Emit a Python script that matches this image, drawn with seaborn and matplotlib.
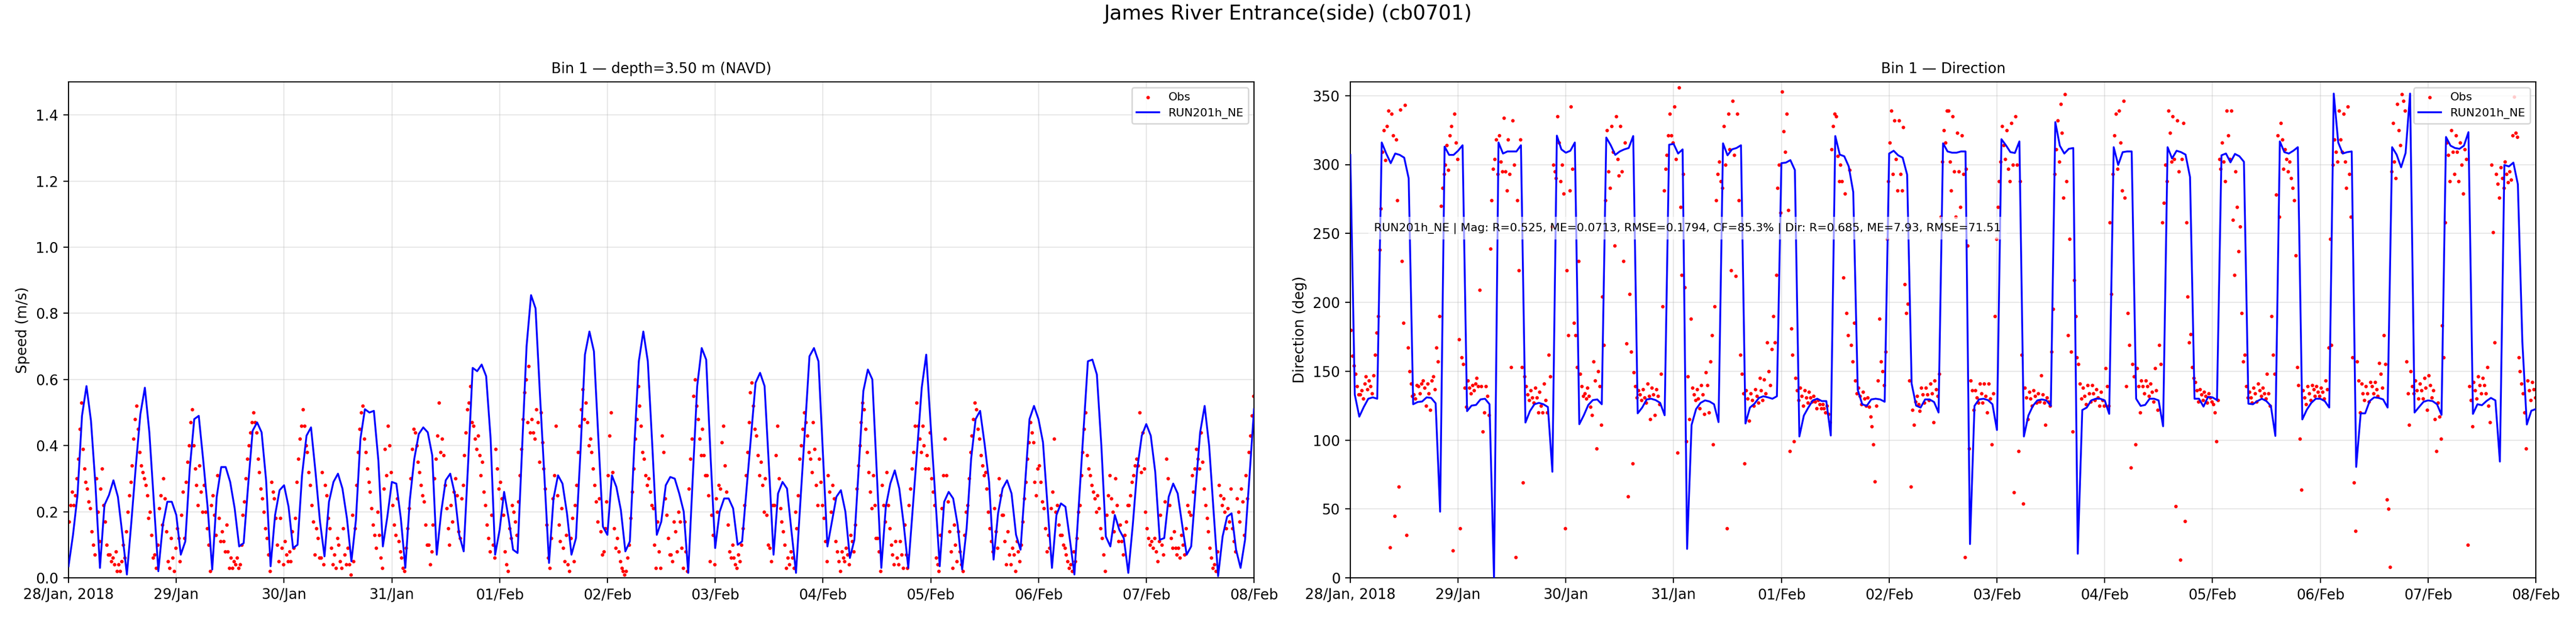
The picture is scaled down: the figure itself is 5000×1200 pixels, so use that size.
import pandas as pd
import seaborn as sns
import matplotlib.pyplot as plt

# ==========================
# DATA
# ==========================
model_start = "2018-01-28 00:00"   # hourly model output
obs_start = "2018-01-28 00:10"     # 20-min ADCP samples

# model speed (m/s), hourly, 28/Jan 00h -> 08/Feb 00h
model_speed = [
    0.035, 0.13, 0.25, 0.49, 0.58, 0.475, 0.28, 0.03, 0.22, 0.25, 0.295, 0.245, 0.13, 0.01, 0.17, 0.34, 0.495, 0.575, 0.44, 0.23, 0.02, 0.16, 0.23, 0.23,
    0.19, 0.07, 0.11, 0.33, 0.48, 0.49, 0.355, 0.21, 0.025, 0.245, 0.335, 0.335, 0.29, 0.21, 0.095, 0.105, 0.28, 0.445, 0.47, 0.44, 0.295, 0.035, 0.19, 0.265,
    0.28, 0.215, 0.09, 0.10, 0.31, 0.43, 0.455, 0.32, 0.17, 0.065, 0.23, 0.29, 0.315, 0.27, 0.18, 0.05, 0.175, 0.42, 0.51, 0.50, 0.505, 0.355, 0.095, 0.185,
    0.29, 0.285, 0.18, 0.03, 0.235, 0.36, 0.435, 0.455, 0.44, 0.37, 0.07, 0.20, 0.295, 0.315, 0.255, 0.13, 0.08, 0.35, 0.635, 0.625, 0.645, 0.61, 0.42, 0.07,
    0.145, 0.26, 0.18, 0.085, 0.075, 0.39, 0.70, 0.855, 0.815, 0.55, 0.30, 0.045, 0.24, 0.31, 0.285, 0.195, 0.07, 0.12, 0.38, 0.675, 0.745, 0.685, 0.42, 0.155,
    0.13, 0.31, 0.275, 0.205, 0.08, 0.11, 0.40, 0.655, 0.745, 0.655, 0.40, 0.13, 0.17, 0.28, 0.305, 0.30, 0.255, 0.20, 0.015, 0.30, 0.58, 0.695, 0.66, 0.36,
    0.09, 0.20, 0.24, 0.24, 0.21, 0.10, 0.11, 0.27, 0.43, 0.59, 0.62, 0.58, 0.33, 0.07, 0.255, 0.29, 0.27, 0.14, 0.015, 0.235, 0.45, 0.67, 0.695, 0.655,
    0.375, 0.095, 0.17, 0.245, 0.265, 0.20, 0.06, 0.115, 0.34, 0.565, 0.63, 0.60, 0.315, 0.03, 0.215, 0.285, 0.325, 0.27, 0.16, 0.03, 0.21, 0.39, 0.575, 0.675,
    0.46, 0.25, 0.035, 0.23, 0.26, 0.24, 0.16, 0.025, 0.15, 0.36, 0.48, 0.505, 0.405, 0.29, 0.055, 0.195, 0.27, 0.295, 0.255, 0.13, 0.085, 0.28, 0.48, 0.52,
    0.48, 0.41, 0.22, 0.03, 0.19, 0.225, 0.215, 0.115, 0.01, 0.225, 0.44, 0.655, 0.66, 0.615, 0.40, 0.125, 0.095, 0.19, 0.145, 0.12, 0.015, 0.16, 0.33, 0.43,
    0.465, 0.43, 0.32, 0.115, 0.12, 0.245, 0.285, 0.255, 0.16, 0.07, 0.095, 0.27, 0.44, 0.52, 0.40, 0.20, 0.005, 0.125, 0.185, 0.195, 0.085, 0.03, 0.115, 0.31,
    0.51,
]

# model direction (deg), hourly
model_dir = [
    307, 133, 117, 124, 130, 131, 130, 316, 308, 301, 308, 307, 305, 290, 126, 127.6, 128, 131, 130.6, 126.7, 48, 313, 307, 307,
    310, 314, 121, 125, 125.5, 129.5, 130, 126, 0, 316, 308, 309.5, 309.5, 309.5, 314, 112.7, 121, 126, 127, 126, 124, 77, 321, 311,
    308.6, 310, 316, 111.5, 118, 125.5, 129, 129.5, 126, 319.6, 314, 307, 309.5, 311, 312, 320.7, 119.4, 123.6, 129.5, 130, 129, 127, 118, 314.4,
    315, 308, 311, 21, 111, 122.5, 127, 128.8, 128, 126, 113, 315.4, 306.7, 311, 312, 314, 112, 123.6, 126.4, 130.6, 131.8, 131, 130, 131.8,
    301, 301.4, 303.2, 296, 102.6, 117.8, 123.6, 128.8, 130, 128.3, 128.3, 103.3, 320.7, 307.2, 306, 298.6, 280, 136.5, 126, 124.8, 129.5, 130, 129.5, 127.8,
    308, 310, 306.7, 305, 292.7, 141, 125, 123.6, 129.5, 129.5, 127.6, 120, 315.4, 309.5, 308.6, 308.6, 309.5, 309.5, 24.5, 124.8, 129.5, 130, 129, 126,
    107.3, 318.4, 314, 309, 308.4, 316.8, 102.6, 117.8, 124.8, 128.8, 129.5, 128.8, 124.8, 330.8, 313.7, 308, 311.4, 312, 17.5, 121.8, 123.6, 128.8, 130, 130,
    128.8, 119, 312.6, 299.7, 309, 309.5, 309.5, 130, 124.8, 125.5, 130, 130, 128.8, 110, 312.6, 304.4, 310, 309, 307.2, 290.9, 130, 130, 124.3, 131.3,
    131, 129, 306.7, 308, 301.6, 307.7, 306, 302, 126.4, 126, 128.3, 130, 128.3, 124.8, 103, 316.8, 309, 308, 310, 312.6, 115, 122, 127, 130,
    130, 128.3, 123.6, 351.5, 316, 308, 309, 309.5, 80.5, 119.4, 119.4, 128.3, 131, 130.6, 129.5, 123.6, 312.6, 307.2, 298, 308.4, 351.5, 120, 124, 127.8,
    128.8, 128.3, 126, 118.3, 320, 313.7, 312, 311.4, 313.7, 323.5, 119, 126, 125.3, 128.3, 130.6, 128.8, 84.4, 299.7, 298.6, 301.4, 285.7, 171.4, 111.3, 121.3,
    122.5,
]

# observed speed (m/s), 3 samples per hour
obs_speed = [
    0.17, 0.22, 0.26, 0.22, 0.25, 0.30, 0.36, 0.45, 0.53, 0.39, 0.33, 0.29, 0.27, 0.23, 0.21, 0.14, 0.10, 0.07, 0.30, 0.20, 0.11, 0.27, 0.33, 0.22, 0.17, 0.10, 0.07, 0.07, 0.05, 0.06, 0.04, 0.08, 0.02, 0.04, 0.02, 0.05,
    0.10, 0.06, 0.14, 0.20, 0.25, 0.29, 0.34, 0.42, 0.48, 0.52, 0.45, 0.38, 0.34, 0.32, 0.30, 0.28, 0.25, 0.18, 0.20, 0.13, 0.06, 0.07, 0.03, 0.10, 0.21, 0.25, 0.16, 0.30, 0.24, 0.14, 0.05, 0.03, 0.12, 0.06, 0.02, 0.09,
    0.15, 0.12, 0.05, 0.19, 0.26, 0.12, 0.29, 0.35, 0.40, 0.47, 0.51, 0.40, 0.33, 0.28, 0.22, 0.34, 0.26, 0.20, 0.28, 0.20, 0.15, 0.10, 0.02, 0.22, 0.25, 0.19, 0.13, 0.31, 0.18, 0.11, 0.14, 0.11, 0.08, 0.16, 0.08, 0.03,
    0.06, 0.03, 0.05, 0.04, 0.06, 0.03, 0.04, 0.10, 0.19, 0.23, 0.30, 0.36, 0.40, 0.44, 0.47, 0.50, 0.47, 0.44, 0.36, 0.32, 0.27, 0.24, 0.20, 0.15, 0.12, 0.07, 0.02, 0.29, 0.26, 0.24, 0.18, 0.10, 0.05, 0.18, 0.09, 0.04,
    0.11, 0.07, 0.05, 0.08, 0.05, 0.14, 0.09, 0.18, 0.29, 0.36, 0.42, 0.46, 0.51, 0.46, 0.40, 0.38, 0.32, 0.28, 0.22, 0.17, 0.07, 0.15, 0.12, 0.06, 0.06, 0.32, 0.04, 0.28, 0.25, 0.18, 0.15, 0.09, 0.04, 0.07, 0.03, 0.12,
    0.10, 0.05, 0.03, 0.15, 0.07, 0.04, 0.09, 0.04, 0.01, 0.19, 0.05, 0.15, 0.28, 0.38, 0.45, 0.50, 0.52, 0.42, 0.38, 0.33, 0.29, 0.26, 0.21, 0.16, 0.13, 0.09, 0.20, 0.13, 0.06, 0.03, 0.27, 0.39, 0.31, 0.46, 0.40, 0.32,
    0.22, 0.16, 0.13, 0.24, 0.11, 0.08, 0.06, 0.03, 0.02, 0.09, 0.15, 0.21, 0.30, 0.39, 0.45, 0.44, 0.40, 0.35, 0.32, 0.28, 0.25, 0.23, 0.16, 0.10, 0.10, 0.04, 0.08, 0.16, 0.30, 0.36, 0.43, 0.53, 0.38, 0.42, 0.37, 0.28,
    0.21, 0.15, 0.10, 0.22, 0.17, 0.26, 0.30, 0.25, 0.14, 0.12, 0.24, 0.28, 0.37, 0.44, 0.51, 0.53, 0.58, 0.47, 0.46, 0.42, 0.39, 0.43, 0.37, 0.31, 0.35, 0.26, 0.22, 0.16, 0.12, 0.08, 0.19, 0.10, 0.06, 0.39, 0.33, 0.27,
    0.29, 0.24, 0.19, 0.08, 0.04, 0.02, 0.15, 0.12, 0.22, 0.20, 0.17, 0.13, 0.23, 0.31, 0.39, 0.48, 0.56, 0.60, 0.47, 0.64, 0.44, 0.48, 0.44, 0.42, 0.51, 0.47, 0.35, 0.50, 0.41, 0.33, 0.27, 0.16, 0.06, 0.03, 0.12, 0.24,
    0.31, 0.46, 0.25, 0.16, 0.11, 0.21, 0.09, 0.05, 0.13, 0.04, 0.02, 0.12, 0.18, 0.05, 0.22, 0.28, 0.38, 0.46, 0.51, 0.57, 0.48, 0.53, 0.47, 0.40, 0.42, 0.38, 0.33, 0.28, 0.23, 0.17, 0.24, 0.14, 0.07, 0.08, 0.15, 0.23,
    0.31, 0.43, 0.50, 0.32, 0.15, 0.09, 0.12, 0.08, 0.05, 0.03, 0.02, 0.01, 0.02, 0.06, 0.10, 0.18, 0.26, 0.33, 0.42, 0.48, 0.58, 0.52, 0.46, 0.38, 0.36, 0.31, 0.28, 0.30, 0.26, 0.22, 0.21, 0.10, 0.03, 0.17, 0.08, 0.03,
    0.43, 0.38, 0.24, 0.19, 0.12, 0.07, 0.07, 0.05, 0.17, 0.14, 0.08, 0.20, 0.17, 0.09, 0.03, 0.17, 0.08, 0.02, 0.27, 0.36, 0.42, 0.55, 0.60, 0.52, 0.48, 0.42, 0.37, 0.45, 0.37, 0.31, 0.31, 0.25, 0.05, 0.19, 0.13, 0.04,
    0.24, 0.20, 0.28, 0.27, 0.41, 0.46, 0.34, 0.26, 0.16, 0.08, 0.06, 0.10, 0.06, 0.04, 0.03, 0.07, 0.05, 0.10, 0.15, 0.22, 0.31, 0.38, 0.47, 0.56, 0.59, 0.52, 0.45, 0.43, 0.37, 0.31, 0.35, 0.28, 0.20, 0.30, 0.19, 0.10,
    0.09, 0.05, 0.22, 0.22, 0.37, 0.46, 0.30, 0.21, 0.17, 0.14, 0.10, 0.03, 0.06, 0.04, 0.08, 0.06, 0.03, 0.20, 0.15, 0.25, 0.36, 0.40, 0.45, 0.50, 0.47, 0.43, 0.38, 0.36, 0.32, 0.47, 0.39, 0.28, 0.22, 0.36, 0.29, 0.22,
    0.18, 0.11, 0.05, 0.31, 0.26, 0.20, 0.28, 0.24, 0.11, 0.08, 0.05, 0.02, 0.08, 0.06, 0.05, 0.09, 0.07, 0.04, 0.13, 0.11, 0.08, 0.16, 0.27, 0.34, 0.40, 0.47, 0.53, 0.51, 0.45, 0.38, 0.32, 0.26, 0.21, 0.31, 0.22, 0.12,
    0.12, 0.08, 0.02, 0.28, 0.22, 0.17, 0.32, 0.22, 0.15, 0.10, 0.07, 0.04, 0.11, 0.06, 0.04, 0.11, 0.07, 0.03, 0.16, 0.07, 0.03, 0.22, 0.27, 0.33, 0.38, 0.46, 0.53, 0.46, 0.42, 0.38, 0.46, 0.40, 0.33, 0.37, 0.33, 0.44,
    0.30, 0.26, 0.22, 0.06, 0.04, 0.02, 0.13, 0.21, 0.31, 0.42, 0.31, 0.23, 0.14, 0.08, 0.03, 0.16, 0.10, 0.05, 0.14, 0.08, 0.04, 0.02, 0.13, 0.20, 0.22, 0.30, 0.38, 0.43, 0.48, 0.53, 0.51, 0.45, 0.42, 0.37, 0.34, 0.31,
    0.32, 0.27, 0.20, 0.15, 0.11, 0.08, 0.21, 0.14, 0.09, 0.30, 0.25, 0.19, 0.19, 0.11, 0.04, 0.14, 0.07, 0.04, 0.09, 0.07, 0.02, 0.11, 0.08, 0.05, 0.10, 0.17, 0.24, 0.29, 0.36, 0.41, 0.47, 0.44, 0.41, 0.29, 0.25, 0.33,
    0.34, 0.29, 0.23, 0.21, 0.15, 0.08, 0.13, 0.09, 0.21, 0.26, 0.42, 0.20, 0.22, 0.16, 0.13, 0.13, 0.10, 0.09, 0.07, 0.05, 0.03, 0.04, 0.02, 0.08, 0.05, 0.12, 0.20, 0.22, 0.31, 0.38, 0.45, 0.50, 0.37, 0.33, 0.31, 0.28,
    0.26, 0.24, 0.20, 0.25, 0.21, 0.15, 0.12, 0.07, 0.02, 0.19, 0.25, 0.31, 0.24, 0.20, 0.14, 0.30, 0.22, 0.11, 0.16, 0.11, 0.07, 0.13, 0.17, 0.22, 0.22, 0.25, 0.29, 0.31, 0.34, 0.36, 0.34, 0.50, 0.32, 0.44, 0.33, 0.20,
    0.15, 0.12, 0.10, 0.11, 0.09, 0.12, 0.08, 0.05, 0.11, 0.19, 0.10, 0.07, 0.23, 0.36, 0.30, 0.22, 0.12, 0.09, 0.14, 0.09, 0.07, 0.09, 0.06, 0.13, 0.10, 0.07, 0.15, 0.22, 0.20, 0.19, 0.31, 0.26, 0.33, 0.39, 0.36, 0.33,
    0.44, 0.35, 0.27, 0.22, 0.18, 0.14, 0.09, 0.06, 0.03, 0.04, 0.02, 0.08, 0.28, 0.25, 0.22, 0.24, 0.20, 0.15, 0.21, 0.17, 0.27, 0.15, 0.11, 0.08, 0.24, 0.20, 0.17, 0.27, 0.23, 0.13, 0.31, 0.24, 0.38, 0.43, 0.49, 0.55,
]

# observed direction (deg), 3 samples per hour
obs_dir = [
    180, 161, 154, 148, 139, 133, 133, 136, 130, 141, 146, 137, 143, 139, 134, 147, 162, 178, 190, 238, 268, 309, 325, 303, 328, 339, 22, 337, 321, 45, 318, 274, 66, 340, 230, 185,
    343, 31, 167, 150, 141, 132, 133, 130, 140, 139, 134, 141, 143, 138, 125, 141, 134, 122, 143, 146, 137, 167, 157, 190, 270, 283, 293, 300, 314, 296, 321, 328, 20, 337, 316, 304,
    173, 36, 160, 155, 138, 124, 143, 138, 134, 140, 136, 141, 145, 139, 209, 139, 106, 120, 139, 132, 118, 239, 274, 297, 304, 318, 293, 321, 302, 295, 334, 295, 281, 318, 293, 153,
    332, 300, 15, 274, 223, 318, 153, 69, 146, 139, 133, 129, 136, 131, 127, 138, 131, 120, 135, 125, 120, 141, 129, 120, 162, 146, 255, 300, 295, 290, 335, 316, 288, 300, 279, 36,
    223, 176, 281, 342, 297, 185, 176, 153, 230, 148, 139, 132, 134, 130, 138, 132, 124, 118, 157, 143, 94, 150, 139, 111, 204, 169, 274, 325, 295, 283, 328, 309, 241, 335, 304, 292,
    328, 295, 230, 316, 170, 59, 206, 164, 83, 149, 139, 131, 136, 133, 129, 137, 131, 127, 141, 132, 115, 138, 133, 118, 137, 132, 126, 148, 197, 281, 297, 307, 321, 337, 321, 316,
    342, 304, 91, 356, 269, 220, 293, 211, 99, 146, 115, 188, 138, 133, 129, 137, 130, 123, 140, 133, 119, 149, 140, 120, 157, 176, 97, 197, 274, 293, 302, 288, 283, 328, 300, 36,
    337, 311, 223, 346, 307, 219, 337, 274, 162, 148, 134, 83, 136, 130, 114, 134, 129, 125, 137, 132, 127, 145, 136, 129, 144, 134, 171, 150, 140, 166, 190, 171, 220, 283, 300, 265,
    353, 324, 309, 337, 267, 92, 181, 162, 99, 145, 136, 129, 138, 132, 125, 136, 131, 127, 135, 131, 128, 132, 128, 123, 129, 126, 123, 126, 123, 120, 125, 119, 113, 311, 328, 337,
    335, 306, 288, 300, 288, 218, 279, 192, 176, 296, 169, 157, 185, 143, 134, 138, 132, 126, 135, 130, 125, 131, 124, 117, 110, 97, 70, 125, 143, 188, 157, 150, 140, 164, 246, 288,
    316, 339, 293, 332, 304, 281, 332, 293, 281, 327, 213, 192, 199, 143, 66, 122, 111, 128, 132, 126, 121, 138, 133, 127, 138, 133, 129, 141, 134, 113, 143, 137, 132, 148, 262, 302,
    325, 316, 339, 339, 302, 281, 335, 295, 262, 323, 295, 269, 321, 293, 15, 297, 241, 94, 143, 136, 122, 136, 131, 127, 141, 134, 127, 141, 132, 120, 141, 130, 97, 134, 190, 246,
    269, 288, 302, 328, 314, 304, 325, 297, 288, 330, 300, 62, 335, 300, 92, 288, 162, 54, 138, 131, 115, 135, 130, 125, 136, 132, 127, 134, 128, 147, 133, 127, 111, 131, 128, 125,
    164, 195, 293, 311, 332, 302, 344, 323, 276, 351, 288, 176, 246, 164, 106, 216, 190, 160, 155, 141, 130, 138, 132, 126, 140, 134, 128, 140, 134, 129, 137, 131, 125, 135, 129, 125,
    152, 139, 125, 258, 206, 293, 321, 337, 297, 339, 316, 281, 346, 276, 139, 192, 169, 80, 155, 146, 97, 152, 139, 120, 143, 139, 134, 143, 139, 132, 141, 135, 128, 152, 136, 122,
    169, 155, 258, 272, 300, 288, 339, 323, 302, 335, 304, 52, 332, 295, 13, 304, 330, 41, 258, 204, 171, 177, 153, 145, 142, 136, 128, 137, 133, 129, 135, 132, 127, 134, 131, 128,
    126, 120, 99, 129, 304, 297, 316, 302, 288, 339, 321, 304, 339, 260, 220, 295, 269, 237, 255, 192, 157, 162, 139, 131, 135, 131, 127, 138, 134, 128, 141, 136, 132, 138, 134, 130,
    148, 134, 125, 190, 162, 148, 278, 321, 262, 330, 318, 297, 311, 304, 295, 302, 290, 283, 274, 234, 153, 140, 101, 64, 136, 131, 126, 139, 134, 129, 140, 137, 132, 139, 135, 132,
    138, 135, 130, 143, 137, 167, 246, 169, 300, 318, 309, 302, 339, 318, 309, 337, 302, 283, 342, 293, 262, 160, 69, 34, 157, 143, 120, 141, 134, 129, 139, 134, 128, 142, 139, 134,
    142, 137, 132, 156, 148, 138, 176, 155, 57, 50, 8, 295, 330, 302, 290, 344, 325, 314, 351, 346, 339, 157, 134, 111, 150, 139, 134, 143, 136, 130, 141, 136, 130, 145, 138, 122,
    147, 140, 131, 136, 115, 92, 127, 117, 101, 183, 160, 258, 316, 307, 288, 325, 309, 293, 321, 309, 288, 316, 300, 279, 311, 304, 24, 139, 129, 110, 142, 136, 130, 146, 140, 134,
    145, 140, 134, 153, 125, 113, 300, 251, 171, 293, 286, 276, 298, 290, 283, 302, 293, 287, 295, 289, 321, 349, 323, 320, 160, 150, 141, 134, 120, 94, 143, 136, 129, 142, 137, 131,
]

tick_days = ["2018-01-28", "2018-01-29", "2018-01-30", "2018-01-31", "2018-02-01", "2018-02-02",
             "2018-02-03", "2018-02-04", "2018-02-05", "2018-02-06", "2018-02-07", "2018-02-08"]
tick_labels = ["28/Jan, 2018", "29/Jan", "30/Jan", "31/Jan", "01/Feb", "02/Feb",
               "03/Feb", "04/Feb", "05/Feb", "06/Feb", "07/Feb", "08/Feb"]

suptitle = "James River Entrance(side) (cb0701)"
run_name = "RUN201h_NE"
stats_text = ("RUN201h_NE | Mag: R=0.525, ME=0.0713, RMSE=0.1794, CF=85.3% | "
              "Dir: R=0.685, ME=7.93, RMSE=71.51")

# ==========================
# Build frames
# ==========================
df_mod_spd = pd.DataFrame({"time": pd.date_range(model_start, periods=len(model_speed), freq="h"),
                           "value": model_speed})
df_mod_dir = pd.DataFrame({"time": pd.date_range(model_start, periods=len(model_dir), freq="h"),
                           "value": model_dir})
df_obs_spd = pd.DataFrame({"time": pd.date_range(obs_start, periods=len(obs_speed), freq="20min"),
                           "value": obs_speed})
df_obs_dir = pd.DataFrame({"time": pd.date_range(obs_start, periods=len(obs_dir), freq="20min"),
                           "value": obs_dir})

tick_dates = pd.to_datetime(tick_days)

# ==========================
# Plot
# ==========================
fig, axes = plt.subplots(1, 2, figsize=(25, 6), dpi=200)
fig.subplots_adjust(left=0.0266, right=0.9844, bottom=0.065, top=0.8675, wspace=0.0812)

panels = [
    (axes[0], df_obs_spd, df_mod_spd, (0, 1.5), "Speed (m/s)", "Bin 1 — depth=3.50 m (NAVD)"),
    (axes[1], df_obs_dir, df_mod_dir, (0, 360), "Direction (deg)", "Bin 1 — Direction"),
]

for ax, obs, mod, ylim, ylab, title in panels:
    sns.scatterplot(data=obs, x="time", y="value", ax=ax, color="red", s=6,
                    linewidth=0, label="Obs", zorder=2)
    sns.lineplot(data=mod, x="time", y="value", ax=ax, color="blue", linewidth=1.3,
                 label=run_name, zorder=3)
    ax.set_xlim(tick_dates[0], tick_dates[-1])
    ax.set_ylim(*ylim)
    ax.set_xticks(tick_dates)
    ax.set_xticklabels(tick_labels)
    ax.tick_params(labelsize=10)
    ax.grid(True, alpha=0.3)
    ax.set_xlabel("")
    ax.set_ylabel(ylab, fontsize=10)
    ax.set_title(title, fontsize=10)
    ax.legend(loc="upper right", fontsize=8)

axes[1].text(0.02, 0.705, stats_text, transform=axes[1].transAxes, fontsize=8,
             va="center", ha="left", zorder=5,
             bbox=dict(facecolor="white", alpha=0.6, edgecolor="none"))

fig.suptitle(suptitle, fontsize=14, y=0.993)

plt.savefig("out.png", dpi=200)
plt.close()
